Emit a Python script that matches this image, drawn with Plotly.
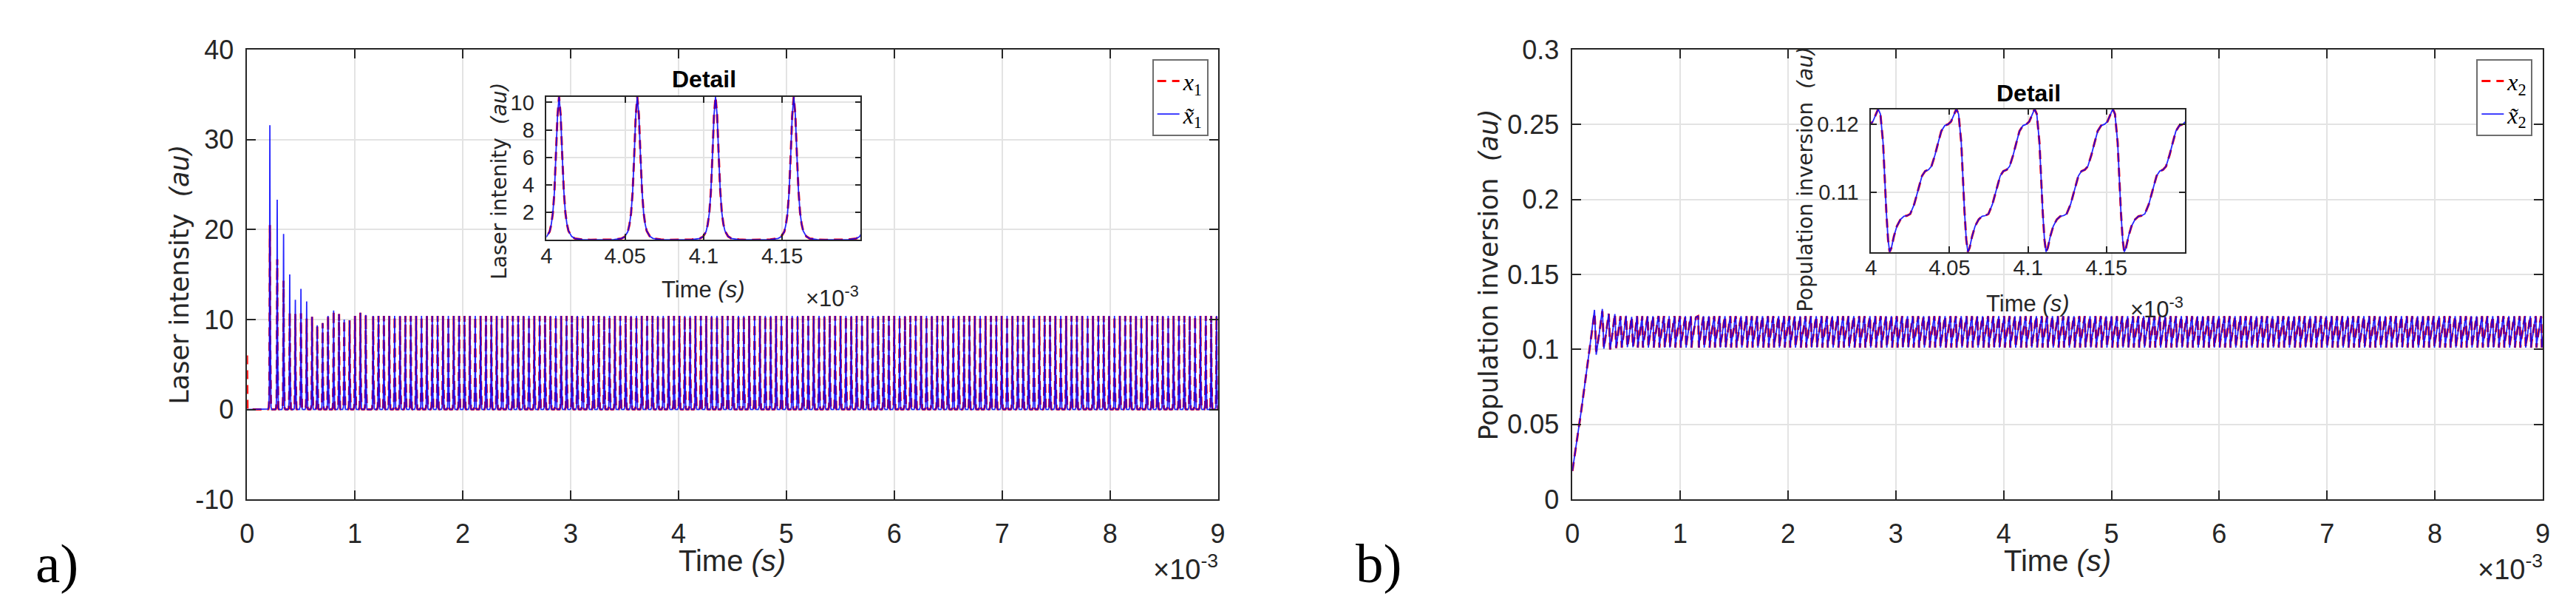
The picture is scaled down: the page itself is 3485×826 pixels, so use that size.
import numpy as np
import plotly.graph_objects as go

W, H = 3485, 826

# ---------------- data (time in units of 1e-3 s) ----------------
x_ticks = [0, 1, 2, 3, 4, 5, 6, 7, 8, 9]
x_ticklabels = ["0", "1", "2", "3", "4", "5", "6", "7", "8", "9"]
a_yticks = [-10, 0, 10, 20, 30, 40]
a_yticklabels = ["-10", "0", "10", "20", "30", "40"]
b_yticks = [0, 0.05, 0.1, 0.15, 0.2, 0.25, 0.3]
b_yticklabels = ["0", "0.05", "0.1", "0.15", "0.2", "0.25", "0.3"]
inset_xticks = [4, 4.05, 4.1, 4.15]
inset_xticklabels = ["4", "4.05", "4.1", "4.15"]
inset_a_yticks = [2, 4, 6, 8, 10]
inset_a_yticklabels = ["2", "4", "6", "8", "10"]
inset_b_yticks = [0.11, 0.12]
inset_b_yticklabels = ["0.11", "0.12"]

pulse_offset = [-0.020, -0.015, -0.010, -0.008, -0.006, -0.005, -0.004, -0.003, -0.002, -0.001, 0.0,
                0.001, 0.002, 0.003, 0.004, 0.005, 0.006, 0.008, 0.010, 0.015, 0.020]
pulse_value = [0.0, 0.02, 0.10, 0.22, 0.60, 1.10, 1.90, 3.40, 6.00, 9.00, 10.40,
               9.10, 6.20, 3.60, 2.00, 1.15, 0.65, 0.25, 0.10, 0.02, 0.0]
pulse_peak_ref = 10.4

# transient spikes (peak time, peak height) for x1 and its estimate
spike_times = [0.212, 0.280, 0.339, 0.396, 0.448, 0.500, 0.553, 0.603, 0.651, 0.701, 0.751,
               0.803, 0.853, 0.901, 0.951, 1.001, 1.051, 1.101]
spike_x1 = [20.5, 16.7, 14.3, 10.8, 10.6, 10.7, 10.1, 10.3, 9.35, 9.6, 10.4,
            11.0, 10.6, 10.0, 9.9, 10.4, 10.75, 10.5]
spike_x1_est = [31.6, 23.3, 19.5, 15.0, 12.2, 13.4, 12.0, 10.3, 9.35, 9.6, 10.4,
                11.0, 10.6, 10.0, 9.9, 10.4, 10.75, 10.5]

# steady regime
steady_anchor = 4.008      # a pulse peak seen in the inset
steady_period = 0.0498
steady_peak = 10.4
steady_start = 1.13
t_end = 9.0

# initial part of x1 / x1 estimate
x1_start_t = [0.0, 0.004]
x1_start_v = [6.0, 0.0]
x1_est_start_t = [0.0, 0.004]
x1_est_start_v = [0.0, 0.0]

# population inversion: initial ramp and transient oscillation
x2_trans_t = [0.0, 0.080, 0.159, 0.205, 0.210, 0.221, 0.250, 0.278, 0.283, 0.292, 0.315, 0.337,
              0.342, 0.350, 0.372, 0.394, 0.399, 0.406, 0.425, 0.446, 0.451, 0.458, 0.477, 0.498,
              0.503, 0.510, 0.530, 0.550, 0.555, 0.562, 0.580]
x2_trans_v = [0.019, 0.058, 0.100, 0.1245, 0.118, 0.0985, 0.111, 0.1255, 0.118, 0.1010, 0.112, 0.1239,
              0.116, 0.1000, 0.111, 0.1236, 0.116, 0.1010, 0.111, 0.1222, 0.115, 0.1012, 0.111, 0.1225,
              0.115, 0.1015, 0.111, 0.1218, 0.115, 0.1015, 0.110]
x2_est_trans_v = [0.019, 0.058, 0.100, 0.1264, 0.118, 0.0965, 0.111, 0.1270, 0.118, 0.1005, 0.112, 0.1239,
                  0.116, 0.1000, 0.111, 0.1236, 0.116, 0.1010, 0.111, 0.1222, 0.115, 0.1012, 0.111, 0.1225,
                  0.115, 0.1015, 0.111, 0.1218, 0.115, 0.1015, 0.110]
x2_period_offset = [-0.0034, -0.0020, -0.0003, 0.0018, 0.0029, 0.0039, 0.0050, 0.0066, 0.0085, 0.0108,
                    0.0130, 0.0150, 0.0170, 0.0195, 0.0223, 0.0245, 0.0265, 0.0286, 0.0305, 0.0328,
                    0.0348, 0.0368, 0.0390, 0.0412, 0.0430, 0.0450]
x2_period_value = [0.12225, 0.1215, 0.1173, 0.1070, 0.1030, 0.1012, 0.1018, 0.1035, 0.1050, 0.1060,
                   0.10645, 0.10655, 0.1068, 0.1082, 0.1104, 0.1124, 0.1131, 0.1133, 0.1138, 0.1155,
                   0.1173, 0.1190, 0.1198, 0.1200, 0.1204, 0.1215]

# ---------------- build series ----------------
k_first = int(np.ceil((steady_start - steady_anchor) / steady_period))
k_last = int(np.floor((t_end + 0.02 - steady_anchor) / steady_period))
steady_times = [steady_anchor + k * steady_period for k in range(k_first, k_last + 1)]


def laser_series(start_t, start_v, peaks_v):
    t, v = list(start_t), list(start_v)
    times = spike_times + steady_times
    amps = list(peaks_v) + [steady_peak] * len(steady_times)
    for tp, ap in zip(times, amps):
        for o, s in zip(pulse_offset, pulse_value):
            t.append(tp + o)
            v.append(s / pulse_peak_ref * ap)
    return np.array(t), np.array(v)


def pop_series(trans_v):
    t, v = list(x2_trans_t), list(trans_v)
    for tp in [s for s in spike_times if s > 0.59] + steady_times:
        for o, s in zip(x2_period_offset, x2_period_value):
            t.append(tp + o)
            v.append(s)
    return np.array(t), np.array(v)


t1, x1 = laser_series(x1_start_t, x1_start_v, spike_x1)
t1e, x1e = laser_series(x1_est_start_t, x1_est_start_v, spike_x1_est)
t2, x2 = pop_series(x2_trans_v)
t2e, x2e = pop_series(x2_est_trans_v)

RED = "#ff0000"
BLUE = "#0000ff"
DASH = "12px,8px"

fig = go.Figure()
# main a
fig.add_trace(go.Scatter(x=t1, y=x1, mode="lines", name="<i>x</i><sub>1</sub>",
                         line=dict(color=RED, width=3, dash=DASH), xaxis="x", yaxis="y", legend="legend"))
fig.add_trace(go.Scatter(x=t1e, y=x1e, mode="lines", name="<i>x̃</i><sub>1</sub>",
                         line=dict(color=BLUE, width=1.8), opacity=0.85, xaxis="x", yaxis="y", legend="legend"))
# main b
fig.add_trace(go.Scatter(x=t2, y=x2, mode="lines", name="<i>x</i><sub>2</sub>",
                         line=dict(color=RED, width=3, dash=DASH), xaxis="x2", yaxis="y2", legend="legend2"))
fig.add_trace(go.Scatter(x=t2e, y=x2e, mode="lines", name="<i>x̃</i><sub>2</sub>",
                         line=dict(color=BLUE, width=1.8), opacity=0.85, xaxis="x2", yaxis="y2", legend="legend2"))
# insets
for xs, ys, col, dash, w, op, xa, ya in [
    (t1, x1, RED, DASH, 3, 1.0, "x3", "y3"), (t1e, x1e, BLUE, None, 1.8, 0.85, "x3", "y3"),
    (t2, x2, RED, DASH, 3, 1.0, "x4", "y4"), (t2e, x2e, BLUE, None, 1.8, 0.85, "x4", "y4")]:
    m = (xs >= 3.99) & (xs <= 4.21)
    fig.add_trace(go.Scatter(x=xs[m], y=ys[m], mode="lines", showlegend=False, opacity=op,
                             line=dict(color=col, width=w, dash=dash), xaxis=xa, yaxis=ya))

AX = "#262626"
GRID = "#e3e3e3"
SANS = "Liberation Sans, Arial, sans-serif"
WIDE = "DejaVu Sans, Verdana, sans-serif"
TICKFONT = dict(family=SANS, size=36, color=AX)
ITICKFONT = dict(family=SANS, size=29, color=AX)


def axis(domain, anchor, rng, tv, tt, font, standoff, ticklen=12):
    return dict(domain=domain, anchor=anchor, range=rng, tickvals=tv, ticktext=tt, tickfont=font,
                showgrid=True, gridcolor=GRID, gridwidth=1.5, zeroline=False,
                showline=True, linecolor=AX, linewidth=1.5, mirror="ticks",
                ticks="inside", ticklen=ticklen, tickwidth=1.5, tickcolor=AX,
                ticklabelstandoff=standoff)


def px_x(p):
    return p / W


def px_y(p):
    return 1 - p / H


fig.update_layout(
    width=W, height=H, margin=dict(l=0, r=0, t=0, b=0),
    paper_bgcolor="white", plot_bgcolor="white",
    xaxis=axis([px_x(318), px_x(1639)], "y", [0, 9], x_ticks, x_ticklabels, TICKFONT, 14),
    yaxis=axis([px_y(681), px_y(41)], "x", [-10, 40], a_yticks, a_yticklabels, TICKFONT, 9),
    xaxis2=axis([px_x(2121.4), px_x(3441.7)], "y2", [0, 9], x_ticks, x_ticklabels, TICKFONT, 14),
    yaxis2=axis([px_y(681), px_y(41)], "x2", [0, 0.3], b_yticks, b_yticklabels, TICKFONT, 9),
    xaxis3=axis([px_x(725.5), px_x(1153)], "y3", [4, 4.2], inset_xticks, inset_xticklabels, ITICKFONT, -5, 8),
    yaxis3=axis([px_y(311.7), px_y(108.3)], "x3", [0, 10.4], inset_a_yticks, inset_a_yticklabels, ITICKFONT, 9, 8),
    xaxis4=axis([px_x(2527.7), px_x(2955)], "y4", [4, 4.2], inset_xticks, inset_xticklabels, ITICKFONT, -5, 8),
    yaxis4=axis([px_y(329), px_y(126)], "x4", [0.1012, 0.1222], inset_b_yticks, inset_b_yticklabels, ITICKFONT, 9, 8),
    legend=dict(x=px_x(1626), xanchor="right", y=px_y(55), yanchor="top", bgcolor="white",
                bordercolor="#6e6e6e", borderwidth=2, tracegroupgap=0,
                font=dict(family="Liberation Serif, serif", size=32, color="black")),
    legend2=dict(x=px_x(3428), xanchor="right", y=px_y(55), yanchor="top", bgcolor="white",
                 bordercolor="#6e6e6e", borderwidth=2, tracegroupgap=0,
                 font=dict(family="Liberation Serif, serif", size=32, color="black")),
)

ann = []


def add_text(x, y, text, size, angle=0, family=SANS, color=AX, xanchor="center"):
    ann.append(dict(x=px_x(x), y=px_y(y), xref="paper", yref="paper", text=text, showarrow=False,
                    textangle=angle, xanchor=xanchor, yanchor="middle",
                    font=dict(family=family, size=size, color=color)))


NB = "\u00a0"
# main titles
add_text(226, 361, "Laser intensity" + NB + NB + "<i>(au)</i>", 35, -90, family=WIDE)
add_text(978, 768, "Time <i>(s)</i>", 40)
add_text(2008, 361, "Population inversion" + NB + NB + "<i>(au)</i>", 35, -90, family=WIDE)
add_text(2781, 768, "Time <i>(s)</i>", 40)
add_text(1641, 778, "×10<sup>-3</sup>", 38, xanchor="right")
add_text(3444, 778, "×10<sup>-3</sup>", 38, xanchor="right")
# inset titles
add_text(940, 83, "<b>Detail</b>", 32, color="black")
add_text(661, 228, "Laser intenity" + NB + NB + "<i>(au)</i>", 28, -90, family=WIDE)
add_text(939, 383, "Time <i>(s)</i>", 31)
add_text(1153, 392, "×10<sup>-3</sup>", 31, xanchor="right")
add_text(2742, 103, "<b>Detail</b>", 32, color="black")
add_text(2439, 226, "Population inversion" + NB + NB + "<i>(au)</i>", 28, -90, family=WIDE)
add_text(2741, 402, "Time <i>(s)</i>", 31)
add_text(2955, 408, "×10<sup>-3</sup>", 31, xanchor="right")
# panel letters
add_text(59, 772, "a)", 75, family="Liberation Serif, serif", color="black")
add_text(1858, 772, "b)", 75, family="Liberation Serif, serif", color="black")

fig.update_layout(annotations=ann)
fig.write_html("out.html")
